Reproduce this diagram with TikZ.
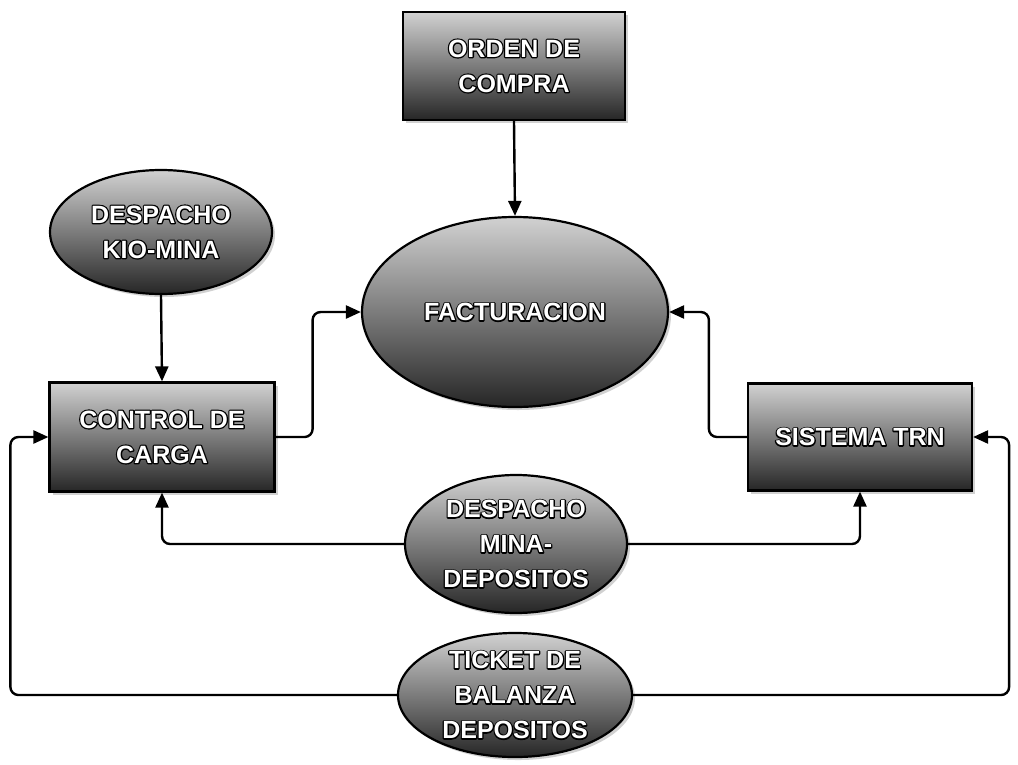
\documentclass[tikz,border=0pt]{standalone}
\usepackage{fontspec}
\setmainfont{Liberation Sans}
\newfontfamily\heavyfont{Liberation Sans}[UprightFeatures={FakeBold=10},BoldFeatures={FakeBold=10}]
\usetikzlibrary{shapes.geometric,arrows.meta,shadows}
\newcommand\olt[1]{\leavevmode\special{pdf:literal direct 1 j 1 J}\rlap{\color{black}\heavyfont\bfseries #1}{\color{white}\bfseries #1}}
\tikzset{
  shapebase/.style={draw=black, line width=2.2pt, top color=black!18, bottom color=black!85,
    font=\fontsize{25}{35}\selectfont, text=white, align=center, inner sep=0pt,
    general shadow={fill=black!18, shadow xshift=3pt, shadow yshift=-3pt}},
  boxnode/.style={shapebase, rectangle},
  ovalnode/.style={shapebase, ellipse},
  conn/.style={line width=2.4pt, black, rounded corners=8pt, -{Triangle[length=15pt,width=13pt]}}
}
\begin{document}
\begin{tikzpicture}[x=1pt,y=-1pt]
\useasboundingbox[fill=white] (0,0) rectangle (1018,764);
\node[boxnode, minimum width=222pt, minimum height=108pt] (orden) at (514,66) {\olt{ORDEN DE}\\\olt{COMPRA}};
\node[ovalnode, minimum width=306pt, minimum height=190pt] (fact) at (515,312) {\olt{FACTURACION}};
\node[ovalnode, minimum width=222pt, minimum height=124pt] (kio) at (161,232) {\olt{DESPACHO}\\\olt{KIO-MINA}};
\node[boxnode, minimum width=225pt, minimum height=109pt] (control) at (162,437) {\olt{CONTROL DE}\\\olt{CARGA}};
\node[boxnode, minimum width=224pt, minimum height=107pt] (sistema) at (860,437) {\olt{SISTEMA TRN}};
\node[ovalnode, minimum width=222pt, minimum height=138pt] (dmd) at (516,544) {\olt{DESPACHO}\\\olt{MINA-}\\\olt{DEPOSITOS}};
\node[ovalnode, minimum width=234pt, minimum height=119pt] (ticket) at (515,695) {\olt{TICKET DE}\\\olt{BALANZA}\\\olt{DEPOSITOS}};
\draw[conn] (orden.south) -- (fact.north);
\draw[conn] (kio.south) -- (control.north);
\draw[conn] (control.east) -- ++(37,0) |- (fact.west);
\draw[conn] (sistema.west) -- ++(-38,0) |- (fact.east);
\draw[conn] (dmd.west) -| (control.south);
\draw[conn] (dmd.east) -| (sistema.south);
\draw[conn] (ticket.west) -| ([xshift=-38pt]control.west) -- (control.west);
\draw[conn] (ticket.east) -| ([xshift=36pt]sistema.east) -- (sistema.east);
\end{tikzpicture}
\end{document}
